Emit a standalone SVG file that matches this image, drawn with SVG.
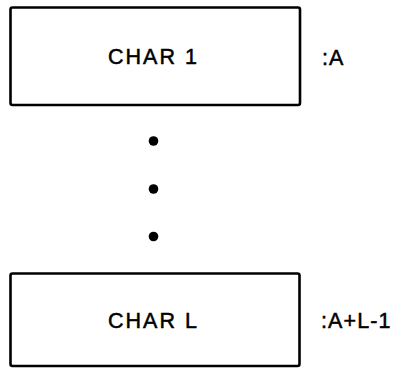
<svg xmlns="http://www.w3.org/2000/svg" width="395" height="368" viewBox="0 0 395 368">
<style>
.box{fill:#fff;stroke:#000;stroke-width:2.6}
.t{font-family:"Liberation Sans",Arial,sans-serif;font-size:21.5px;fill:#000;stroke:#000;stroke-width:0.5}
.c{letter-spacing:2px}
.l{letter-spacing:1.1px}
.dot{fill:#000}
</style>
<rect width="395" height="368" fill="#fff"/>
<g id="char1">
<rect class="box" x="10.5" y="7.5" width="289.5" height="97.5" rx="2"/>
<text class="t c" x="108" y="64">CHAR 1</text>
</g>
<g id="label-a">
<text class="t l" x="322" y="64.5">:A</text>
</g>
<g id="ellipsis">
<circle class="dot" cx="153.5" cy="141" r="4.8"/>
<circle class="dot" cx="153.5" cy="189" r="4.8"/>
<circle class="dot" cx="153.5" cy="236.5" r="4.8"/>
</g>
<g id="charL">
<rect class="box" x="10.5" y="273.5" width="289" height="92.5" rx="2"/>
<text class="t c" x="108" y="328">CHAR L</text>
</g>
<g id="label-al">
<text class="t l" x="321" y="328">:A+L-1</text>
</g>
<g id="connectors"/>
</svg>
